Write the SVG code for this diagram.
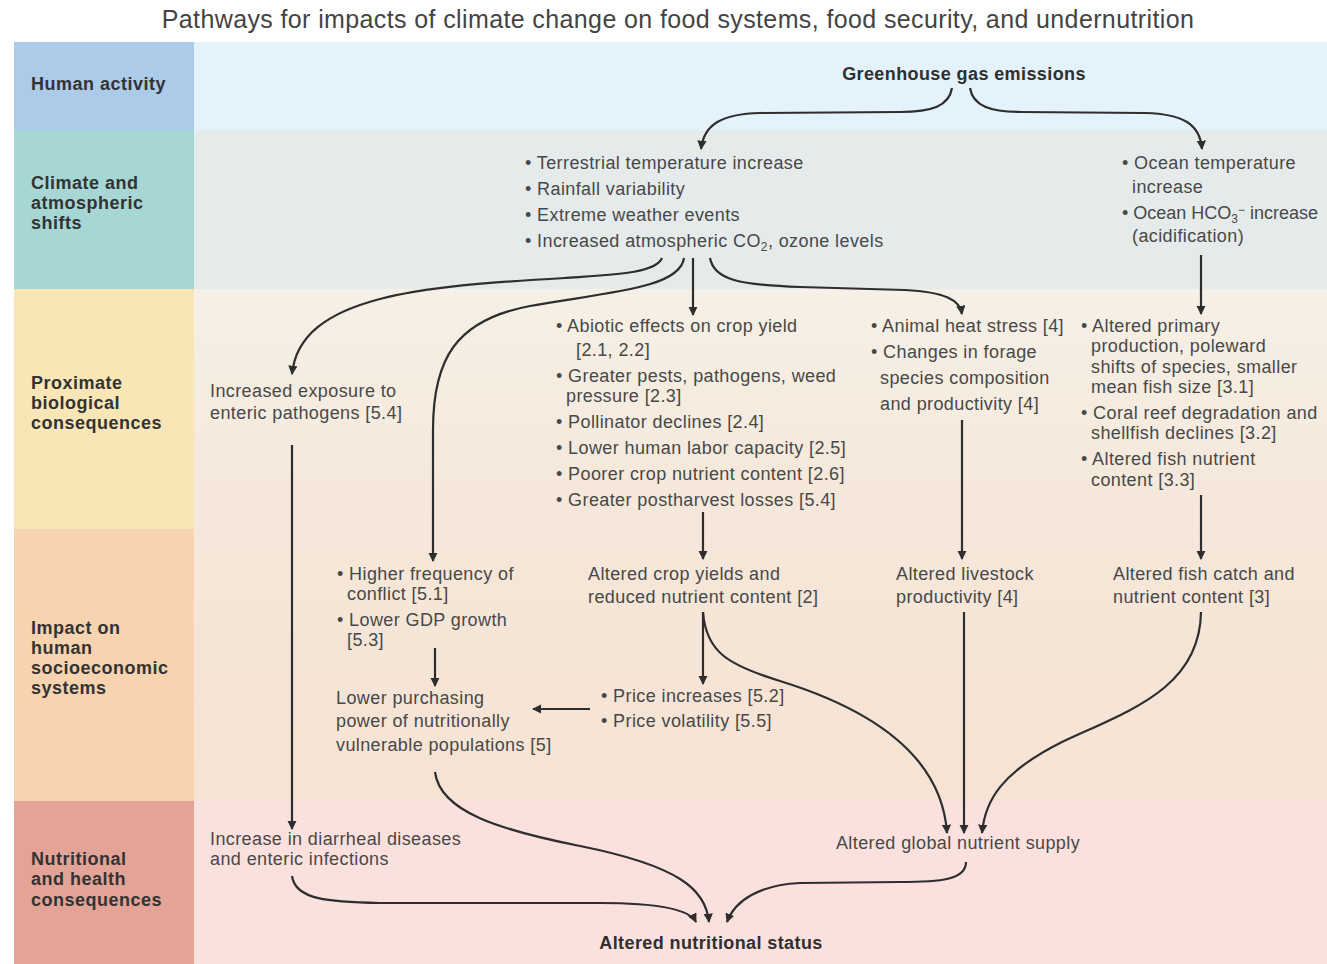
<svg xmlns="http://www.w3.org/2000/svg" width="1327" height="964" viewBox="0 0 1327 964">
<defs>
<marker id="ah" viewBox="0 0 10 10" refX="9" refY="5" markerWidth="4.2" markerHeight="4.2" orient="auto" markerUnits="strokeWidth">
<path d="M0,0 L10,5 L0,10 Z" fill="#2e2e2e"/>
</marker>
<linearGradient id="g34" x1="0" y1="0" x2="0" y2="1">
<stop offset="0" stop-color="#f6f0e6"/><stop offset="1" stop-color="#f5e7d9"/>
</linearGradient>
<linearGradient id="g45" x1="0" y1="0" x2="0" y2="1">
<stop offset="0" stop-color="#f5e7d9"/><stop offset="1" stop-color="#f6e3d4"/>
</linearGradient>
<style>
.t{font-family:"Liberation Sans",Arial,sans-serif;font-size:18px;letter-spacing:0.4px;fill:#484848}
.b{font-family:"Liberation Sans",Arial,sans-serif;font-size:18px;letter-spacing:0.4px;font-weight:bold;fill:#2f2f2f}
.lab{font-family:"Liberation Sans",Arial,sans-serif;font-size:18px;letter-spacing:0.5px;font-weight:bold;fill:#333}
.title{font-family:"Liberation Sans",Arial,sans-serif;font-size:25px;letter-spacing:0.38px;fill:#444}
.c{fill:none;stroke:#2e2e2e;stroke-width:2.2;marker-end:url(#ah)}
.sub{font-size:12px}
.tight{letter-spacing:0px}
</style>
</defs>
<rect width="1327" height="964" fill="#ffffff"/>
<text class="title" x="678" y="28" text-anchor="middle">Pathways for impacts of climate change on food systems, food security, and undernutrition</text>

<g id="bands">
<rect x="194" y="42" width="1133" height="88" fill="#e3f2fb"/>
<rect x="194" y="130" width="1133" height="159" fill="#e5eaeb"/>
<rect x="194" y="289" width="1133" height="240" fill="url(#g34)"/>
<rect x="194" y="529" width="1133" height="272" fill="url(#g45)"/>
<rect x="194" y="801" width="1133" height="163" fill="#fbe1de"/>
<rect x="14" y="42" width="180" height="88" fill="#abcbe9"/>
<rect x="14" y="130" width="180" height="159" fill="#a6d7d5"/>
<rect x="14" y="289" width="180" height="240" fill="#f9e6b6"/>
<rect x="14" y="529" width="180" height="272" fill="#f8d3af"/>
<rect x="14" y="801" width="180" height="163" fill="#e3a497"/>
</g>

<g id="labels">
<text class="lab" x="31" y="90">Human activity</text>
<text class="lab"><tspan x="31" y="189">Climate and</tspan><tspan x="31" y="209">atmospheric</tspan><tspan x="31" y="229">shifts</tspan></text>
<text class="lab"><tspan x="31" y="389">Proximate</tspan><tspan x="31" y="409">biological</tspan><tspan x="31" y="429">consequences</tspan></text>
<text class="lab"><tspan x="31" y="634">Impact on</tspan><tspan x="31" y="654">human</tspan><tspan x="31" y="674">socioeconomic</tspan><tspan x="31" y="694">systems</tspan></text>
<text class="lab"><tspan x="31" y="865">Nutritional</tspan><tspan x="31" y="885">and health</tspan><tspan x="31" y="906">consequences</tspan></text>
</g>

<g id="ghg"><text class="b" x="964" y="80" text-anchor="middle">Greenhouse gas emissions</text></g>

<g id="climate">
<text class="t"><tspan x="525" y="169">• Terrestrial temperature increase</tspan><tspan x="525" y="195">• Rainfall variability</tspan><tspan x="525" y="221">• Extreme weather events</tspan><tspan x="525" y="247">• Increased atmospheric CO<tspan class="sub" dy="4">2</tspan><tspan dy="-4">, ozone levels</tspan></tspan></text>
</g>

<g id="ocean">
<text class="t"><tspan x="1122" y="169">• Ocean temperature</tspan><tspan x="1132" y="193">increase</tspan><tspan class="tight" x="1122" y="219">• Ocean HCO<tspan class="sub" dy="4">3</tspan><tspan class="sub" dy="-9">−</tspan><tspan dy="5"> increase</tspan></tspan><tspan x="1132" y="242">(acidification)</tspan></text>
</g>

<g id="enteric">
<text class="t"><tspan x="210" y="397">Increased exposure to</tspan><tspan x="210" y="419">enteric pathogens [5.4]</tspan></text>
</g>

<g id="crop">
<text class="t"><tspan x="556" y="332">• Abiotic effects on crop yield</tspan><tspan x="576" y="356">[2.1, 2.2]</tspan><tspan x="556" y="382">• Greater pests, pathogens, weed</tspan><tspan x="566" y="402">pressure [2.3]</tspan><tspan x="556" y="428">• Pollinator declines [2.4]</tspan><tspan x="556" y="454">• Lower human labor capacity [2.5]</tspan><tspan x="556" y="480">• Poorer crop nutrient content [2.6]</tspan><tspan x="556" y="506">• Greater postharvest losses [5.4]</tspan></text>
</g>

<g id="livestock">
<text class="t"><tspan x="871" y="332">• Animal heat stress [4]</tspan><tspan x="871" y="358">• Changes in forage</tspan><tspan x="880" y="384">species composition</tspan><tspan x="880" y="410">and productivity [4]</tspan></text>
</g>

<g id="fish">
<text class="t"><tspan x="1081" y="332">• Altered primary</tspan><tspan x="1091" y="352">production, poleward</tspan><tspan x="1091" y="373">shifts of species, smaller</tspan><tspan x="1091" y="393">mean fish size [3.1]</tspan><tspan x="1081" y="419">• Coral reef degradation and</tspan><tspan x="1091" y="439">shellfish declines [3.2]</tspan><tspan x="1081" y="465">• Altered fish nutrient</tspan><tspan x="1091" y="486">content [3.3]</tspan></text>
</g>

<g id="conflict">
<text class="t"><tspan x="337" y="580">• Higher frequency of</tspan><tspan x="347" y="600">conflict [5.1]</tspan><tspan x="337" y="626">• Lower GDP growth</tspan><tspan x="347" y="646">[5.3]</tspan></text>
</g>

<g id="purchasing">
<text class="t"><tspan x="336" y="704">Lower purchasing</tspan><tspan x="336" y="727">power of nutritionally</tspan><tspan x="336" y="751">vulnerable populations [5]</tspan></text>
</g>

<g id="cropyields">
<text class="t"><tspan x="588" y="580">Altered crop yields and</tspan><tspan x="588" y="603">reduced nutrient content [2]</tspan></text>
</g>

<g id="livestockprod">
<text class="t"><tspan x="896" y="580">Altered livestock</tspan><tspan x="896" y="603">productivity [4]</tspan></text>
</g>

<g id="fishcatch">
<text class="t"><tspan x="1113" y="580">Altered fish catch and</tspan><tspan x="1113" y="603">nutrient content [3]</tspan></text>
</g>

<g id="price">
<text class="t"><tspan x="601" y="702">• Price increases [5.2]</tspan><tspan x="601" y="727">• Price volatility [5.5]</tspan></text>
</g>

<g id="diarrheal">
<text class="t"><tspan x="210" y="845">Increase in diarrheal diseases</tspan><tspan x="210" y="865">and enteric infections</tspan></text>
</g>

<g id="globalsupply">
<text class="t" x="958" y="849" text-anchor="middle">Altered global nutrient supply</text>
</g>

<g id="status">
<text class="b" x="711" y="949" text-anchor="middle">Altered nutritional status</text>
</g>

<g id="connectors">
<path class="c" d="M952,88 C949,106 932,112 900,112 L760,113 C722,114 704,124 701,149"/>
<path class="c" d="M970,88 C973,106 990,112 1022,112 L1145,113 C1183,114 1200,124 1202,149"/>
<path class="c" d="M1201,255 L1201,314"/>
<path class="c" d="M662,258 C656,272 625,274 565,278 C420,286 300,296 292,374"/>
<path class="c" d="M684,258 C680,288 610,292 530,306 C455,320 433,360 433,430 L433,561"/>
<path class="c" d="M693,258 L693,315"/>
<path class="c" d="M710,258 C714,280 740,285 800,287 L905,290 C945,292 960,300 962,314"/>
<path class="c" d="M292,445 L292,829"/>
<path class="c" d="M703,512 L703,559"/>
<path class="c" d="M962,420 L962,559"/>
<path class="c" d="M1201,495 L1201,559"/>
<path class="c" d="M435,648 L435,686"/>
<path class="c" d="M703,612 L703,684"/>
<path class="c" d="M590,709 L533,709"/>
<path class="c" d="M703,612 C706,652 728,665 780,681 C880,712 942,760 947,833"/>
<path class="c" d="M964,612 L964,833"/>
<path class="c" d="M1201,612 C1200,690 1125,712 1062,742 C1002,772 985,800 982,833"/>
<path class="c" d="M435,772 C440,812 500,830 580,846 C680,866 706,890 709,922"/>
<path class="c" d="M292,876 C295,900 330,902 380,903 L600,903 C662,903 690,910 696,922"/>
<path class="c" d="M966,862 C966,880 940,882 900,882 L800,883 C760,885 735,900 727,922"/>
</g>
</svg>
